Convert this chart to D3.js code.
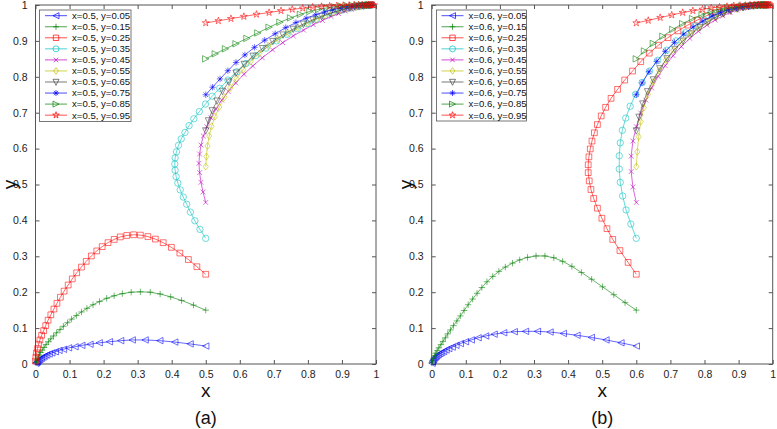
<!DOCTYPE html>
<html><head><meta charset="utf-8">
<script src="https://cdn.jsdelivr.net/npm/d3@7"></script>
<style>body{margin:0;background:#fff;} svg{display:block;font-family:"Liberation Sans",Arial,sans-serif;}</style>
</head><body><svg id="c" width="777" height="429"></svg>
<script>
// ---------- data ----------
const xTicks = [0,0.1,0.2,0.3,0.4,0.5,0.6,0.7,0.8,0.9,1];
const yTicks = [0,0.1,0.2,0.3,0.4,0.5,0.6,0.7,0.8,0.9,1];
const yStarts = ["0.05","0.15","0.25","0.35","0.45","0.55","0.65","0.75","0.85","0.95"];
const panelLabels = ["(a)","(b)"];
const xStarts = ["0.5","0.6"];
const seriesColors = ["#0000ff","#008000","#ff0000","#00bfbf","#bf00bf","#bfbf00","#404040","#0000ff","#008000","#ff0000"];
const seriesMarkers = ["<","+","s","o","x","d","v","*",">","p"];

// panel (a): x0 = 0.5
const a005 = [[0.5,0.05],[0.454,0.056],[0.409,0.061],[0.365,0.065],[0.322,0.067],[0.284,0.067],[0.25,0.065],[0.217,0.062],[0.187,0.059],[0.16,0.055],[0.136,0.052],[0.116,0.048],[0.097,0.045],[0.082,0.041],[0.069,0.038],[0.058,0.034],[0.048,0.031],[0.04,0.028],[0.033,0.025],[0.027,0.022],[0.022,0.019],[0.017,0.016],[0.013,0.013],[0.01,0.011],[0.007,0.008],[0.005,0.006],[0.003,0.004],[0.001,0.002]];
const a015 = [[0.5,0.15],[0.464,0.164],[0.429,0.177],[0.397,0.187],[0.366,0.195],[0.337,0.2],[0.308,0.201],[0.281,0.2],[0.255,0.196],[0.231,0.19],[0.209,0.183],[0.188,0.174],[0.169,0.165],[0.151,0.155],[0.135,0.145],[0.12,0.135],[0.106,0.125],[0.094,0.115],[0.082,0.105],[0.072,0.096],[0.062,0.087],[0.053,0.078],[0.045,0.07],[0.038,0.062],[0.031,0.054],[0.025,0.046],[0.02,0.039],[0.015,0.032],[0.011,0.025],[0.008,0.019],[0.005,0.013],[0.003,0.008],[0.001,0.004]];
const a025 = [[0.5,0.25],[0.474,0.271],[0.449,0.291],[0.424,0.309],[0.399,0.325],[0.375,0.338],[0.352,0.348],[0.33,0.355],[0.308,0.359],[0.288,0.36],[0.268,0.358],[0.249,0.354],[0.231,0.347],[0.213,0.338],[0.196,0.327],[0.18,0.315],[0.164,0.301],[0.149,0.286],[0.135,0.27],[0.121,0.254],[0.108,0.237],[0.096,0.22],[0.084,0.203],[0.073,0.186],[0.063,0.169],[0.054,0.153],[0.045,0.137],[0.037,0.122],[0.03,0.107],[0.024,0.093],[0.018,0.08],[0.013,0.067],[0.009,0.055],[0.006,0.043],[0.003,0.031],[0.001,0.019],[0,0.008]];
const a035 = [[0.5,0.35],[0.483,0.375],[0.468,0.399],[0.455,0.423],[0.444,0.445],[0.434,0.465],[0.425,0.485],[0.418,0.504],[0.413,0.522],[0.41,0.54],[0.409,0.557],[0.41,0.574],[0.414,0.591],[0.42,0.609],[0.428,0.627],[0.439,0.645],[0.451,0.664],[0.465,0.683],[0.481,0.703],[0.499,0.724],[0.519,0.746],[0.541,0.768],[0.565,0.791],[0.591,0.814],[0.618,0.837],[0.647,0.859],[0.677,0.88],[0.708,0.9],[0.739,0.918],[0.769,0.934],[0.798,0.948],[0.825,0.96],[0.85,0.97],[0.873,0.978],[0.894,0.984],[0.912,0.989],[0.928,0.992],[0.942,0.995],[0.954,0.997],[0.964,0.998],[0.972,0.999],[0.979,0.999],[0.985,1],[0.99,1]];
const a045 = [[0.5,0.45],[0.492,0.479],[0.486,0.506],[0.482,0.533],[0.48,0.559],[0.482,0.585],[0.486,0.61],[0.493,0.635],[0.503,0.661],[0.515,0.686],[0.53,0.71],[0.547,0.735],[0.566,0.759],[0.588,0.783],[0.612,0.807],[0.638,0.83],[0.666,0.853],[0.696,0.875],[0.726,0.895],[0.757,0.914],[0.787,0.93],[0.816,0.945],[0.843,0.957],[0.868,0.968],[0.89,0.976],[0.91,0.983],[0.927,0.988],[0.942,0.992],[0.955,0.995],[0.965,0.997],[0.974,0.998],[0.981,0.999],[0.987,1]];
const a055 = [[0.5,0.55],[0.502,0.578],[0.505,0.607],[0.51,0.635],[0.517,0.662],[0.527,0.689],[0.54,0.716],[0.555,0.743],[0.572,0.769],[0.59,0.795],[0.61,0.82],[0.632,0.843],[0.657,0.865],[0.684,0.886],[0.712,0.905],[0.741,0.922],[0.77,0.937],[0.798,0.95],[0.825,0.961],[0.85,0.971],[0.873,0.979],[0.894,0.985],[0.912,0.99],[0.928,0.993],[0.942,0.995],[0.954,0.997],[0.964,0.998],[0.972,0.999],[0.98,1]];
const a065 = [[0.5,0.65],[0.508,0.678],[0.519,0.706],[0.533,0.733],[0.549,0.76],[0.568,0.786],[0.589,0.811],[0.613,0.835],[0.639,0.858],[0.667,0.879],[0.697,0.899],[0.727,0.917],[0.757,0.933],[0.787,0.947],[0.815,0.959],[0.841,0.969],[0.865,0.977],[0.887,0.983],[0.906,0.988],[0.923,0.992],[0.938,0.995],[0.951,0.997],[0.962,0.998],[0.971,0.999],[0.979,1],[0.985,1]];
const a075 = [[0.5,0.75],[0.52,0.771],[0.542,0.794],[0.565,0.817],[0.589,0.84],[0.615,0.861],[0.643,0.882],[0.673,0.902],[0.704,0.92],[0.735,0.937],[0.765,0.951],[0.795,0.963],[0.823,0.973],[0.849,0.981],[0.873,0.987],[0.895,0.991],[0.914,0.994],[0.93,0.996],[0.944,0.998],[0.956,0.999],[0.966,0.999],[0.975,1],[0.982,1],[0.988,1]];
const a085 = [[0.5,0.85],[0.528,0.864],[0.558,0.878],[0.589,0.892],[0.621,0.907],[0.653,0.922],[0.686,0.938],[0.718,0.952],[0.749,0.964],[0.778,0.974],[0.806,0.982],[0.832,0.988],[0.856,0.992],[0.878,0.995],[0.898,0.997],[0.916,0.998],[0.931,0.999],[0.945,1],[0.957,1],[0.967,1],[0.975,1],[0.982,1],[0.988,1]];
const a095 = [[0.5,0.95],[0.537,0.956],[0.574,0.962],[0.612,0.968],[0.649,0.974],[0.686,0.979],[0.721,0.984],[0.754,0.988],[0.785,0.991],[0.814,0.994],[0.84,0.996],[0.864,0.997],[0.885,0.998],[0.904,0.999],[0.921,0.999],[0.936,1],[0.949,1],[0.96,1],[0.97,1],[0.978,1],[0.985,1],[0.99,1],[0.994,1]];

// panel (b): x0 = 0.6
const b005 = [[0.6,0.05],[0.555,0.059],[0.511,0.067],[0.468,0.074],[0.426,0.08],[0.386,0.085],[0.347,0.089],[0.31,0.091],[0.275,0.091],[0.242,0.09],[0.211,0.087],[0.183,0.083],[0.158,0.078],[0.136,0.073],[0.116,0.067],[0.099,0.062],[0.084,0.057],[0.071,0.052],[0.06,0.047],[0.05,0.043],[0.042,0.039],[0.035,0.035],[0.029,0.032],[0.024,0.029],[0.019,0.026],[0.015,0.023],[0.012,0.02],[0.009,0.017],[0.006,0.013],[0.004,0.01],[0.002,0.006],[0.001,0.002]];
const b015 = [[0.6,0.15],[0.567,0.171],[0.534,0.193],[0.501,0.215],[0.469,0.236],[0.439,0.255],[0.411,0.272],[0.384,0.286],[0.358,0.296],[0.332,0.301],[0.306,0.301],[0.281,0.297],[0.258,0.29],[0.237,0.281],[0.216,0.27],[0.197,0.258],[0.179,0.244],[0.162,0.229],[0.147,0.213],[0.133,0.197],[0.12,0.181],[0.107,0.165],[0.095,0.149],[0.084,0.134],[0.074,0.12],[0.064,0.107],[0.055,0.095],[0.047,0.084],[0.04,0.073],[0.033,0.063],[0.027,0.054],[0.021,0.045],[0.016,0.037],[0.012,0.03],[0.008,0.023],[0.005,0.016],[0.002,0.009],[0,0.003]];
const b025 = [[0.6,0.25],[0.576,0.283],[0.552,0.316],[0.531,0.347],[0.514,0.377],[0.499,0.406],[0.486,0.434],[0.475,0.461],[0.467,0.486],[0.462,0.51],[0.459,0.533],[0.459,0.555],[0.461,0.577],[0.465,0.599],[0.47,0.621],[0.477,0.644],[0.486,0.667],[0.497,0.691],[0.51,0.715],[0.526,0.74],[0.545,0.765],[0.566,0.791],[0.589,0.816],[0.613,0.842],[0.638,0.866],[0.665,0.888],[0.693,0.909],[0.722,0.928],[0.751,0.944],[0.779,0.958],[0.806,0.97],[0.832,0.979],[0.856,0.986],[0.878,0.991],[0.898,0.994],[0.916,0.996],[0.932,0.998],[0.946,0.999],[0.958,1],[0.968,1],[0.977,1],[0.984,1],[0.99,1]];
const b035 = [[0.6,0.35],[0.584,0.39],[0.57,0.429],[0.56,0.468],[0.553,0.506],[0.55,0.543],[0.55,0.58],[0.553,0.616],[0.559,0.651],[0.569,0.685],[0.582,0.718],[0.598,0.751],[0.617,0.784],[0.639,0.816],[0.663,0.846],[0.689,0.874],[0.716,0.9],[0.744,0.923],[0.772,0.942],[0.8,0.958],[0.826,0.971],[0.851,0.981],[0.874,0.988],[0.895,0.992],[0.914,0.995],[0.931,0.997],[0.946,0.998],[0.958,0.999],[0.969,1],[0.978,1],[0.985,1]];
const b045 = [[0.6,0.45],[0.59,0.493],[0.585,0.536],[0.585,0.579],[0.59,0.621],[0.6,0.661],[0.613,0.699],[0.628,0.735],[0.645,0.769],[0.664,0.801],[0.685,0.831],[0.708,0.859],[0.732,0.884],[0.757,0.907],[0.782,0.927],[0.807,0.944],[0.831,0.958],[0.854,0.97],[0.875,0.979],[0.895,0.986],[0.913,0.991],[0.929,0.994],[0.943,0.996],[0.955,0.998],[0.965,0.999],[0.974,1],[0.981,1]];
const b055 = [[0.6,0.55],[0.603,0.591],[0.607,0.633],[0.613,0.675],[0.622,0.714],[0.634,0.751],[0.649,0.785],[0.667,0.817],[0.687,0.847],[0.709,0.874],[0.733,0.898],[0.758,0.92],[0.783,0.938],[0.808,0.953],[0.832,0.966],[0.854,0.976],[0.875,0.984],[0.895,0.989],[0.913,0.993],[0.929,0.996],[0.943,0.998],[0.955,0.999],[0.965,1],[0.974,1],[0.981,1]];
const b065 = [[0.6,0.65],[0.608,0.688],[0.619,0.725],[0.633,0.759],[0.65,0.792],[0.669,0.823],[0.69,0.851],[0.713,0.877],[0.737,0.9],[0.762,0.92],[0.787,0.938],[0.811,0.953],[0.834,0.966],[0.856,0.976],[0.877,0.984],[0.896,0.99],[0.913,0.993],[0.929,0.996],[0.943,0.998],[0.955,0.999],[0.965,1],[0.974,1],[0.981,1]];
const b075 = [[0.6,0.75],[0.617,0.783],[0.637,0.814],[0.66,0.843],[0.685,0.871],[0.712,0.896],[0.739,0.919],[0.767,0.939],[0.795,0.955],[0.822,0.969],[0.847,0.979],[0.871,0.987],[0.893,0.992],[0.912,0.995],[0.929,0.997],[0.944,0.999],[0.957,1],[0.968,1],[0.977,1],[0.984,1]];
const b085 = [[0.6,0.85],[0.624,0.872],[0.65,0.893],[0.678,0.913],[0.707,0.932],[0.736,0.948],[0.765,0.962],[0.793,0.973],[0.82,0.982],[0.845,0.988],[0.868,0.992],[0.889,0.995],[0.908,0.997],[0.925,0.998],[0.94,0.999],[0.953,1],[0.964,1],[0.973,1],[0.98,1],[0.986,1]];
const b095 = [[0.6,0.95],[0.635,0.957],[0.67,0.965],[0.704,0.972],[0.736,0.979],[0.766,0.984],[0.794,0.988],[0.82,0.992],[0.844,0.994],[0.866,0.996],[0.886,0.998],[0.904,0.999],[0.92,0.999],[0.934,1],[0.947,1],[0.958,1],[0.967,1],[0.975,1],[0.982,1],[0.988,1],[0.993,1]];

const panelSeries = [
  [a005,a015,a025,a035,a045,a055,a065,a075,a085,a095],
  [b005,b015,b025,b035,b045,b055,b065,b075,b085,b095]
];

// ---------- drawing ----------
const svg = d3.select("#c");
const layouts = [
  {left:35.5, right:376, top:5, bottom:364, legend:{x:39.5, y:10, w:91.5, h:111.5, lineX0:45, lineX1:67, textX:72}},
  {left:431.7, right:772.7, top:5, bottom:364, legend:{x:436.5, y:10, w:90, h:111, lineX0:441.5, lineX1:463.5, textX:468.5}}
];

function markerPath(type, s) {
  switch (type) {
    case "<": return `M${-s},0L${s},${-s}L${s},${s}Z`;
    case ">": return `M${s},0L${-s},${-s}L${-s},${s}Z`;
    case "v": return `M${-s},${-s*0.9}L${s},${-s*0.9}L0,${s*1.1}Z`;
    case "s": { const h = s*0.9; return `M${-h},${-h}H${h}V${h}H${-h}Z`; }
    case "o": return d3.symbol(d3.symbolCircle, Math.PI*s*s)();
    case "d": return `M0,${-s*1.1}L${s*0.8},0L0,${s*1.1}L${-s*0.8},0Z`;
    case "+": return `M${-s},0H${s}M0,${-s}V${s}`;
    case "x": { const h = s*0.75; return `M${-h},${-h}L${h},${h}M${-h},${h}L${h},${-h}`; }
    case "*": { const h = s*0.7; return `M${-s},0H${s}M0,${-s}V${s}M${-h},${-h}L${h},${h}M${-h},${h}L${h},${-h}`; }
    case "p": return d3.symbol(d3.symbolStar, s*s*1.5)();
  }
}

layouts.forEach((L, pi) => {
  const x = d3.scaleLinear().domain([0,1]).range([L.left, L.right]);
  const y = d3.scaleLinear().domain([0,1]).range([L.bottom, L.top]);
  const g = svg.append("g");

  // frame
  g.append("rect").attr("x", L.left).attr("y", L.top)
    .attr("width", L.right - L.left).attr("height", L.bottom - L.top)
    .attr("fill", "none").attr("stroke", "#555").attr("stroke-width", 1);

  // axes with inward ticks
  const axB = d3.axisBottom(x).tickValues(xTicks).tickSize(-4).tickPadding(7).tickFormat(d3.format("~g"));
  const axL = d3.axisLeft(y).tickValues(yTicks).tickSize(-4).tickPadding(8).tickFormat(d3.format("~g"));
  const axT = d3.axisTop(x).tickValues(xTicks).tickSize(-4).tickFormat("");
  const axR = d3.axisRight(y).tickValues(yTicks).tickSize(-4).tickFormat("");
  [[axB,`translate(0,${L.bottom})`],[axL,`translate(${L.left},0)`],[axT,`translate(0,${L.top})`],[axR,`translate(${L.right},0)`]]
    .forEach(([ax,tr]) => {
      const a = g.append("g").attr("transform", tr).call(ax);
      a.select(".domain").remove();
      a.selectAll(".tick line").attr("stroke", "#555");
      a.selectAll(".tick text").attr("fill", "#222").style("font-size", "10.5px").style("font-family", '"Liberation Sans",Arial,sans-serif');
    });

  // axis labels
  const cx = (L.left + L.right) / 2;
  g.append("text").attr("x", cx).attr("y", 397).attr("text-anchor", "middle")
    .style("font-size", "19px").attr("fill", "#111").text("x");
  g.append("text").attr("transform", `translate(${L.left - 20},${(L.top+L.bottom)/2}) rotate(-90)`)
    .attr("text-anchor", "middle").style("font-size", "19px").attr("fill", "#111").text("y");
  g.append("text").attr("x", cx).attr("y", 424).attr("text-anchor", "middle")
    .style("font-size", "18px").attr("fill", "#111").text(panelLabels[pi]);

  // series
  const line = d3.line().x(d => x(d[0])).y(d => y(d[1]));
  panelSeries[pi].forEach((data, si) => {
    const col = seriesColors[si];
    const sg = g.append("g");
    sg.append("path").attr("d", line(data)).attr("fill", "none")
      .attr("stroke", col).attr("stroke-width", 0.7).attr("stroke-opacity", 0.85);
    sg.selectAll("path.m").data(data).join("path").attr("class", "m")
      .attr("transform", d => `translate(${x(d[0])},${y(d[1])})`)
      .attr("d", markerPath(seriesMarkers[si], 3.2))
      .attr("fill", "none").attr("stroke", col).attr("stroke-width", 0.7).attr("stroke-opacity", 0.8);
  });

  // legend
  const lg = L.legend;
  const leg = g.append("g");
  leg.append("rect").attr("x", lg.x).attr("y", lg.y).attr("width", lg.w).attr("height", lg.h)
    .attr("fill", "#fff").attr("stroke", "#555").attr("stroke-width", 0.8);
  yStarts.forEach((ys, si) => {
    const yy = lg.y + 5.7 + si * 11.05;
    const col = seriesColors[si];
    leg.append("line").attr("x1", lg.lineX0).attr("x2", lg.lineX1).attr("y1", yy).attr("y2", yy)
      .attr("stroke", col).attr("stroke-width", 0.7);
    leg.append("path").attr("transform", `translate(${(lg.lineX0+lg.lineX1)/2},${yy})`)
      .attr("d", markerPath(seriesMarkers[si], 3)).attr("fill", "none").attr("stroke", col).attr("stroke-width", 0.7);
    leg.append("text").attr("x", lg.textX).attr("y", yy).attr("dy", "0.35em")
      .style("font-size", "9.6px").attr("fill", "#111").text(`x=${xStarts[pi]}, y=${ys}`);
  });
});
</script>
</body></html>
